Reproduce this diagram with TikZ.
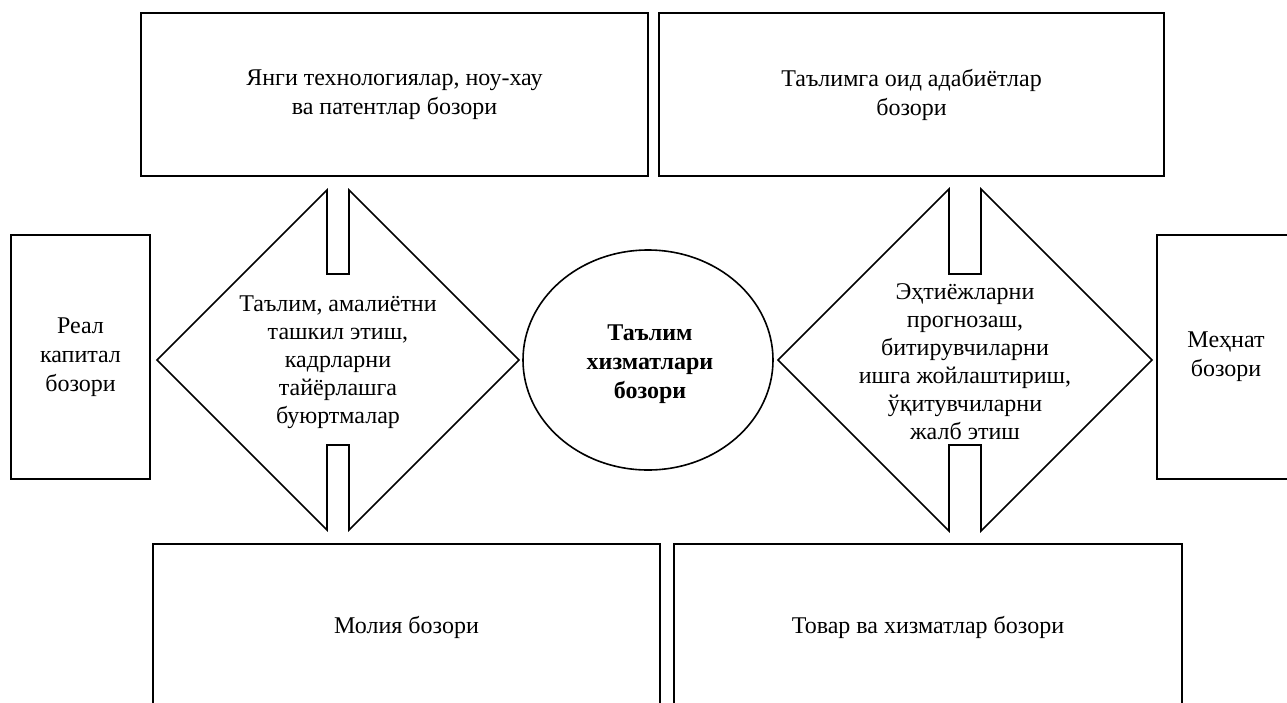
\documentclass[tikz,border=0pt]{standalone}
\usepackage{fontspec}
\setmainfont{Liberation Serif}
\usetikzlibrary{shapes.geometric}
\begin{document}
\begin{tikzpicture}[x=1pt,y=-1pt,
  box/.style={draw, line width=2pt, inner sep=0pt, align=center, font=\fontsize{24}{29}\selectfont},
  lbl/.style={align=center, inner sep=0pt, font=\fontsize{24}{28}\selectfont},
  arr/.style={draw, line width=1.6pt, line join=miter}]
\useasboundingbox (0,0) rectangle (1287,702);
\clip (0,0) rectangle (1287,702);
% boxes
\node[box, minimum width=507pt, minimum height=163pt] (tl) at (394.5,94.5) {Янги технологиялар, ноу-хау\\ва патентлар бозори};
\node[box, minimum width=505pt, minimum height=163pt] (tr) at (911.5,94.5) {Таълимга оид адабиётлар\\бозори};
\node[box, minimum width=139pt, minimum height=244pt] (lb) at (80.5,357) {Реал\\капитал\\бозори};
\node[box, minimum width=138pt, minimum height=244pt] (rb) at (1226,357) {Меҳнат\\бозори};
\node[box, minimum width=507pt, minimum height=166pt] (bl) at (406.5,627) {Молия бозори};
\node[box, minimum width=508pt, minimum height=166pt] (br) at (928,627) {Товар ва хизматлар бозори};
% centre
\node[draw, ellipse, line width=1.6pt, minimum width=250pt, minimum height=220pt, inner sep=0pt] (c) at (648,360) {};
\node[align=center, inner sep=0pt, font=\fontsize{24}{29}\selectfont\bfseries] (ct) at (650,364) {Таълим\\хизматлари\\бозори};
% double arrows
\draw[arr] (157,360) -- (327,190) -- (327,274) -- (349,274) -- (349,190) -- (519,360) -- (349,530) -- (349,445) -- (327,445) -- (327,530) -- cycle;
\draw[arr] (778,360) -- (949,189) -- (949,274) -- (981,274) -- (981,189) -- (1152,360) -- (981,531) -- (981,445) -- (949,445) -- (949,531) -- cycle;
\node[lbl] (dl) at (338,362) {Таълим, амалиётни\\ташкил этиш,\\кадрларни\\тайёрлашга\\буюртмалар};
\node[lbl] (dr) at (965,362) {Эҳтиёжларни\\прогнозаш,\\битирувчиларни\\ишга жойлаштириш,\\ўқитувчиларни\\жалб этиш};
\end{tikzpicture}
\end{document}
